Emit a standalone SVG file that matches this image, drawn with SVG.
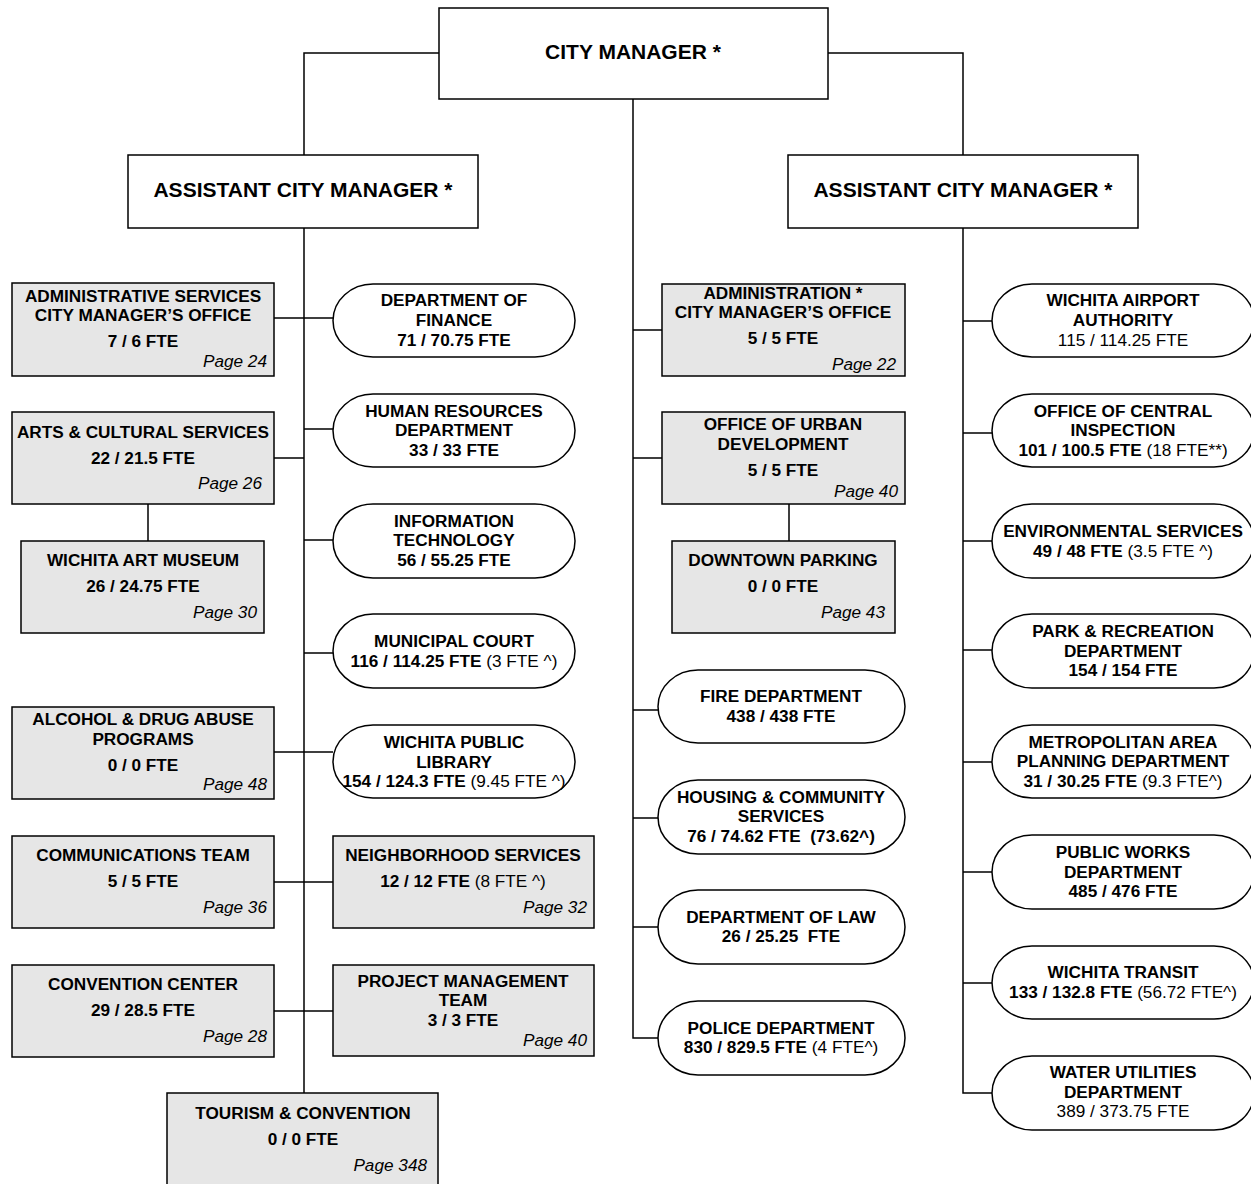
<svg xmlns="http://www.w3.org/2000/svg" width="1251" height="1184" viewBox="0 0 1251 1184">
<style>
text{font-family:"Liberation Sans",Arial,sans-serif;fill:#000;text-anchor:middle}
.t{font-size:17.2px;font-weight:bold}
.h{font-size:21px;font-weight:bold}
.p{font-size:17.2px;font-style:italic;text-anchor:end}
.n{font-weight:normal}
.box{fill:#fff;stroke:#000;stroke-width:1.5}
.g{fill:#e6e6e6;stroke:#000;stroke-width:1.5}
.s{fill:#fff;stroke:#000;stroke-width:1.5}
.c{fill:none;stroke:#000;stroke-width:1.5}
</style>
<rect width="1251" height="1184" fill="#fff"/>
<g id="connectors">
<path class="c" d="M439,53 H304 V155 M828,53 H963 V155 M633,99 V1038 H658"/>
<path class="c" d="M304,228 V1093 M274,318 H333 M274,458 H304 M304,429 H333 M304,540 H333 M304,653 H333 M274,752 H333 M274,882 H333 M274,1011 H333 M148,504 V541"/>
<path class="c" d="M633,330 H662 M633,458 H662 M789,504 V541 M633,710 H658 M633,818 H658 M633,927 H658"/>
<path class="c" d="M963,228 V1093 H992 M963,321 H992 M963,433 H992 M963,541 H992 M963,650 H992 M963,762 H992 M963,872 H992 M963,983 H992"/>
</g>
<g id="city-manager"><rect class="box" x="439" y="8" width="389" height="91"/><text class="h" x="633" y="59">CITY MANAGER *</text></g>
<g id="acm-left"><rect class="box" x="128" y="155" width="350" height="73"/><text class="h" x="303" y="197">ASSISTANT CITY MANAGER *</text></g>
<g id="acm-right"><rect class="box" x="788" y="155" width="350" height="73"/><text class="h" x="963" y="197">ASSISTANT CITY MANAGER *</text></g>

<g id="admin-services"><rect class="g" x="12" y="283" width="262" height="93"/><text class="t" x="143" y="302">ADMINISTRATIVE SERVICES</text><text class="t" x="143" y="321">CITY MANAGER’S OFFICE</text><text class="t" x="143" y="347">7 / 6 FTE</text><text class="p" x="267" y="367">Page 24</text></g>
<g id="arts"><rect class="g" x="12" y="412" width="262" height="92"/><text class="t" x="143" y="438">ARTS &amp; CULTURAL SERVICES</text><text class="t" x="143" y="464">22 / 21.5 FTE</text><text class="p" x="262" y="489">Page 26</text></g>
<g id="art-museum"><rect class="g" x="21" y="541" width="243" height="92"/><text class="t" x="143" y="566">WICHITA ART MUSEUM</text><text class="t" x="143" y="592">26 / 24.75 FTE</text><text class="p" x="257" y="618">Page 30</text></g>
<g id="alcohol"><rect class="g" x="12" y="707" width="262" height="92"/><text class="t" x="143" y="725">ALCOHOL &amp; DRUG ABUSE</text><text class="t" x="143" y="745">PROGRAMS</text><text class="t" x="143" y="771">0 / 0 FTE</text><text class="p" x="267" y="790">Page 48</text></g>
<g id="communications"><rect class="g" x="12" y="836" width="262" height="92"/><text class="t" x="143" y="861">COMMUNICATIONS TEAM</text><text class="t" x="143" y="887">5 / 5 FTE</text><text class="p" x="267" y="913">Page 36</text></g>
<g id="convention-center"><rect class="g" x="12" y="965" width="262" height="92"/><text class="t" x="143" y="990">CONVENTION CENTER</text><text class="t" x="143" y="1016">29 / 28.5 FTE</text><text class="p" x="267" y="1042">Page 28</text></g>
<g id="tourism"><rect class="g" x="167" y="1093" width="271" height="100"/><text class="t" x="303" y="1119">TOURISM &amp; CONVENTION</text><text class="t" x="303" y="1145">0 / 0 FTE</text><text class="p" x="427" y="1171">Page 348</text></g>

<g id="finance"><rect class="s" x="333" y="284" width="242" height="73" rx="40" ry="36.5"/><text class="t" x="454" y="306">DEPARTMENT OF</text><text class="t" x="454" y="326">FINANCE</text><text class="t" x="454" y="346">71 / 70.75 FTE</text></g>
<g id="hr"><rect class="s" x="333" y="394" width="242" height="73" rx="40" ry="36.5"/><text class="t" x="454" y="417">HUMAN RESOURCES</text><text class="t" x="454" y="436">DEPARTMENT</text><text class="t" x="454" y="456">33 / 33 FTE</text></g>
<g id="it"><rect class="s" x="333" y="504" width="242" height="74" rx="40" ry="37"/><text class="t" x="454" y="527">INFORMATION</text><text class="t" x="454" y="546">TECHNOLOGY</text><text class="t" x="454" y="566">56 / 55.25 FTE</text></g>
<g id="court"><rect class="s" x="333" y="614" width="242" height="74" rx="40" ry="37"/><text class="t" x="454" y="647">MUNICIPAL COURT</text><text class="t" x="454" y="667">116 / 114.25 FTE <tspan class="n">(3 FTE ^)</tspan></text></g>
<g id="library"><rect class="s" x="333" y="725" width="242" height="73" rx="40" ry="36.5"/><text class="t" x="454" y="748">WICHITA PUBLIC</text><text class="t" x="454" y="768">LIBRARY</text><text class="t" x="454" y="787">154 / 124.3 FTE <tspan class="n">(9.45 FTE ^)</tspan></text></g>
<g id="neighborhood"><rect class="g" x="333" y="836" width="261" height="92"/><text class="t" x="463" y="861">NEIGHBORHOOD SERVICES</text><text class="t" x="463" y="887">12 / 12 FTE <tspan class="n">(8 FTE ^)</tspan></text><text class="p" x="587" y="913">Page 32</text></g>
<g id="project-mgmt"><rect class="g" x="333" y="965" width="261" height="91"/><text class="t" x="463" y="987">PROJECT MANAGEMENT</text><text class="t" x="463" y="1006">TEAM</text><text class="t" x="463" y="1026">3 / 3 FTE</text><text class="p" x="587" y="1046">Page 40</text></g>

<g id="administration"><rect class="g" x="662" y="284" width="243" height="92"/><text class="t" x="783" y="299">ADMINISTRATION *</text><text class="t" x="783" y="318">CITY MANAGER’S OFFICE</text><text class="t" x="783" y="344">5 / 5 FTE</text><text class="p" x="896" y="370">Page 22</text></g>
<g id="urban-dev"><rect class="g" x="662" y="412" width="243" height="92"/><text class="t" x="783" y="430">OFFICE OF URBAN</text><text class="t" x="783" y="450">DEVELOPMENT</text><text class="t" x="783" y="476">5 / 5 FTE</text><text class="p" x="898" y="497">Page 40</text></g>
<g id="parking"><rect class="g" x="672" y="541" width="223" height="92"/><text class="t" x="783" y="566">DOWNTOWN PARKING</text><text class="t" x="783" y="592">0 / 0 FTE</text><text class="p" x="885" y="618">Page 43</text></g>
<g id="fire"><rect class="s" x="658" y="670" width="247" height="73" rx="40" ry="36.5"/><text class="t" x="781" y="702">FIRE DEPARTMENT</text><text class="t" x="781" y="722">438 / 438 FTE</text></g>
<g id="housing"><rect class="s" x="658" y="780" width="247" height="74" rx="40" ry="37"/><text class="t" x="781" y="803">HOUSING &amp; COMMUNITY</text><text class="t" x="781" y="822">SERVICES</text><text class="t" x="781" y="842" xml:space="preserve">76 / 74.62 FTE  (73.62^)</text></g>
<g id="law"><rect class="s" x="658" y="890" width="247" height="74" rx="40" ry="37"/><text class="t" x="781" y="923">DEPARTMENT OF LAW</text><text class="t" x="781" y="942" xml:space="preserve">26 / 25.25  FTE</text></g>
<g id="police"><rect class="s" x="658" y="1001" width="247" height="74" rx="40" ry="37"/><text class="t" x="781" y="1034">POLICE DEPARTMENT</text><text class="t" x="781" y="1053">830 / 829.5 FTE <tspan class="n">(4 FTE^)</tspan></text></g>

<g id="airport"><rect class="s" x="992" y="284" width="262" height="73" rx="40" ry="36.5"/><text class="t" x="1123" y="306">WICHITA AIRPORT</text><text class="t" x="1123" y="326">AUTHORITY</text><text class="t n" x="1123" y="346">115 / 114.25 FTE</text></g>
<g id="central-inspection"><rect class="s" x="992" y="394" width="262" height="73" rx="40" ry="36.5"/><text class="t" x="1123" y="417">OFFICE OF CENTRAL</text><text class="t" x="1123" y="436">INSPECTION</text><text class="t" x="1123" y="456">101 / 100.5 FTE <tspan class="n">(18 FTE**)</tspan></text></g>
<g id="environmental"><rect class="s" x="992" y="504" width="262" height="74" rx="40" ry="37"/><text class="t" x="1123" y="537">ENVIRONMENTAL SERVICES</text><text class="t" x="1123" y="557">49 / 48 FTE <tspan class="n">(3.5 FTE ^)</tspan></text></g>
<g id="park"><rect class="s" x="992" y="614" width="262" height="74" rx="40" ry="37"/><text class="t" x="1123" y="637">PARK &amp; RECREATION</text><text class="t" x="1123" y="657">DEPARTMENT</text><text class="t" x="1123" y="676">154 / 154 FTE</text></g>
<g id="mapd"><rect class="s" x="992" y="725" width="262" height="73" rx="40" ry="36.5"/><text class="t" x="1123" y="748">METROPOLITAN AREA</text><text class="t" x="1123" y="767">PLANNING DEPARTMENT</text><text class="t" x="1123" y="787">31 / 30.25 FTE <tspan class="n">(9.3 FTE^)</tspan></text></g>
<g id="public-works"><rect class="s" x="992" y="835" width="262" height="74" rx="40" ry="37"/><text class="t" x="1123" y="858">PUBLIC WORKS</text><text class="t" x="1123" y="878">DEPARTMENT</text><text class="t" x="1123" y="897">485 / 476 FTE</text></g>
<g id="transit"><rect class="s" x="992" y="946" width="262" height="73" rx="40" ry="36.5"/><text class="t" x="1123" y="978">WICHITA TRANSIT</text><text class="t" x="1123" y="998">133 / 132.8 FTE <tspan class="n">(56.72 FTE^)</tspan></text></g>
<g id="water"><rect class="s" x="992" y="1056" width="262" height="74" rx="40" ry="37"/><text class="t" x="1123" y="1078">WATER UTILITIES</text><text class="t" x="1123" y="1098">DEPARTMENT</text><text class="t n" x="1123" y="1117">389 / 373.75 FTE</text></g>
</svg>
